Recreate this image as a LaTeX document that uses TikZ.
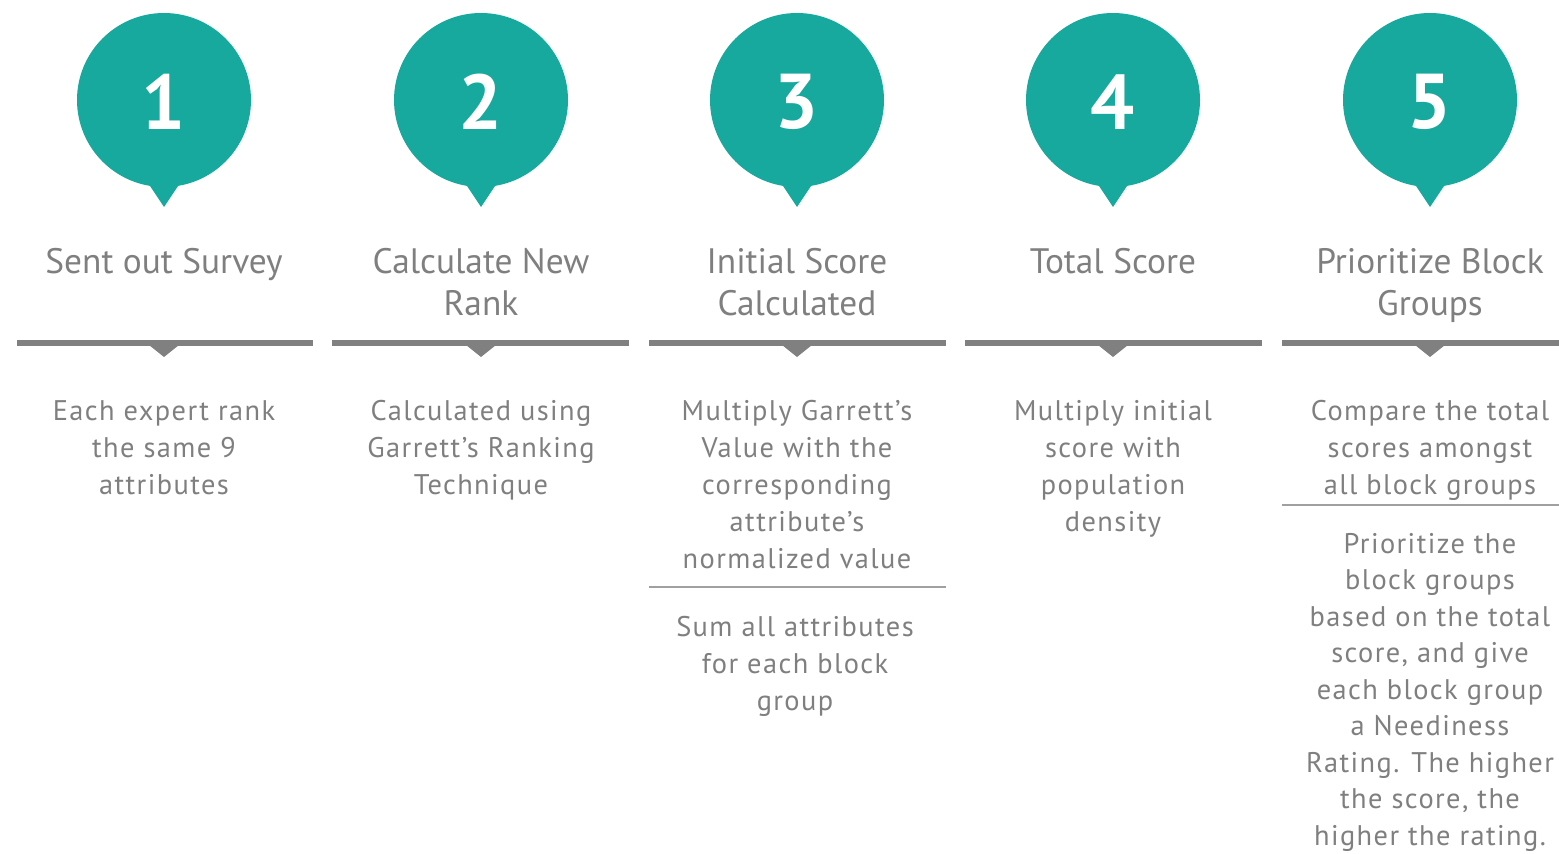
\documentclass[tikz,border=0pt]{standalone}
\usepackage{fontspec}
\setmainfont{PT Sans}
\newfontfamily\bodyfont[LetterSpace=5]{PT Sans}
\definecolor{pinteal}{HTML}{17A99E}
\definecolor{bargray}{HTML}{808080}
\definecolor{txtgray}{HTML}{7F7F7F}
\definecolor{rulegray}{HTML}{A0A0A0}
\begin{document}
\begin{tikzpicture}[x=1bp,y=-1bp,
  pinnum/.style={text=white,font=\bfseries\fontsize{78}{78}\selectfont,inner sep=0pt},
  heading/.style={text=txtgray,font=\fontsize{35.5}{42}\selectfont,align=center,inner sep=0pt,anchor=base},
  bodytext/.style={text=txtgray,font=\bodyfont\fontsize{28.5}{37.2}\selectfont,align=center,inner sep=0pt,anchor=base},
  longtext/.style={bodytext,font=\bodyfont\fontsize{28.5}{36.6}\selectfont},
  barline/.style={fill=bargray,draw=none},
  thinrule/.style={draw=rulegray,line width=1.5bp}]
\useasboundingbox (0,0) rectangle (1559,853);

% pins and section bars
\foreach \cx/\n/\xa/\xb in {164/1/17/313, 481/2/332/629, 797/3/649/946, 1113/4/965/1262, 1430/5/1282/1559}{
  \fill[pinteal] (\cx,100) circle (87);
  \fill[pinteal] (\cx-18,180) -- (\cx+18,180) -- (\cx,207) -- cycle;
  \node[pinnum] (num\n) at (\cx,102) {\n};
  \fill[barline] (\xa,340) rectangle (\xb,346);
  \fill[barline] (\cx-15,345) -- (\cx+15,345) -- (\cx,357) -- cycle;
}

% headings (anchored at the baseline of their last line)
\node[heading] (h1) at (164,273) {Sent out Survey};
\node[heading] (h2) at (481,315) {Calculate New\\Rank};
\node[heading] (h3) at (797,315) {Initial Score\\Calculated};
\node[heading] (h4) at (1113,273) {Total Score};
\node[heading] (h5) at (1430,315) {Prioritize Block\\Groups};

% descriptions (anchored at the baseline of their last line)
\node[bodytext] (b1) at (164,494.4) {Each expert rank\\the same 9\\attributes};
\node[bodytext] (b2) at (481,494.4) {Calculated using\\Garrett’s Ranking\\Technique};
\node[bodytext] (b3) at (797,568.8) {Multiply Garrett’s\\Value with the\\corresponding\\attribute’s\\normalized value};
\node[bodytext] (b3b) at (795,710.4) {Sum all attributes\\for each block\\group};
\node[bodytext] (b4) at (1113,531.6) {Multiply initial\\score with\\population\\density};
\node[bodytext] (b5) at (1430,494.4) {Compare the total\\scores amongst\\all block groups};
\node[longtext] (b5b) at (1430,845) {Prioritize the\\block groups\\based on the total\\score, and give\\each block group\\a Neediness\\Rating. The higher\\the score, the\\higher the rating.};

% separators between description blocks
\draw[thinrule] (649,587) -- (946,587);
\draw[thinrule] (1282,505) -- (1559,505);
\end{tikzpicture}
\end{document}
